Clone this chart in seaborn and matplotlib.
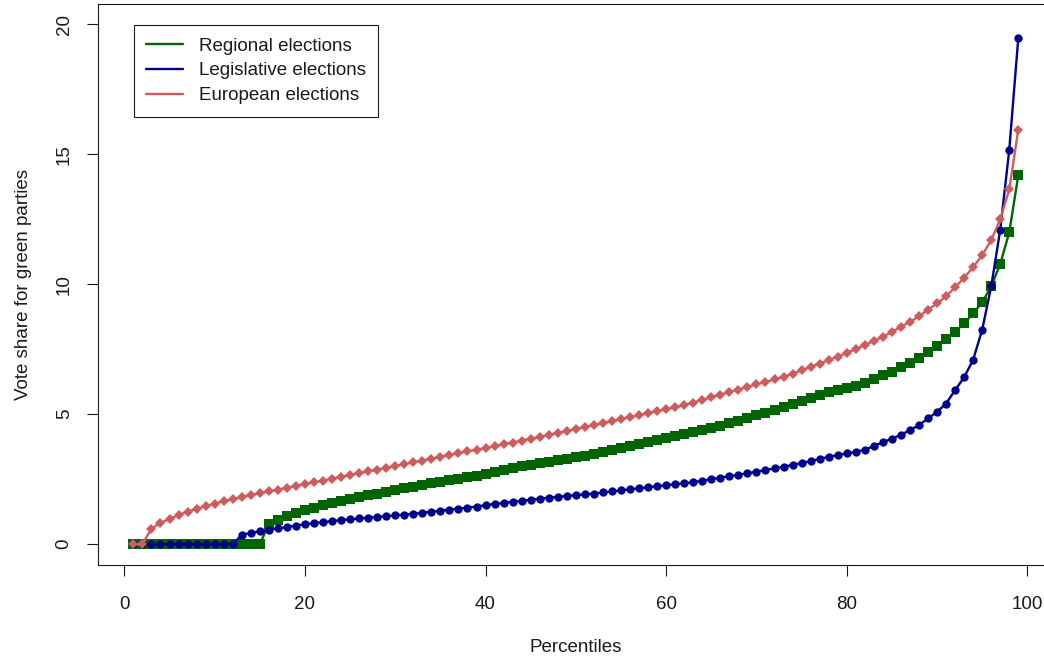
import matplotlib
matplotlib.use("Agg")
import matplotlib.pyplot as plt
from matplotlib.lines import Line2D
import seaborn as sns
import pandas as pd

# Percentile positions
percentiles = list(range(1, 100))

# Vote share (%) for green parties at each percentile
regional = [
    0.00, 0.00, 0.00, 0.00, 0.00, 0.00, 0.00, 0.00, 0.00, 0.00,
    0.00, 0.00, 0.00, 0.00, 0.00, 0.78, 0.95, 1.10, 1.22, 1.32,
    1.41, 1.50, 1.58, 1.66, 1.74, 1.81, 1.88, 1.95, 2.02, 2.09,
    2.16, 2.22, 2.28, 2.34, 2.40, 2.46, 2.52, 2.58, 2.64, 2.70,
    2.78, 2.85, 2.92, 2.99, 3.05, 3.11, 3.17, 3.23, 3.29, 3.35,
    3.41, 3.48, 3.55, 3.62, 3.69, 3.76, 3.84, 3.92, 4.00, 4.08,
    4.16, 4.24, 4.32, 4.40, 4.48, 4.56, 4.65, 4.75, 4.85, 4.96,
    5.06, 5.17, 5.28, 5.39, 5.50, 5.61, 5.73, 5.85, 5.93, 6.02,
    6.10, 6.20, 6.34, 6.50, 6.63, 6.82, 6.98, 7.18, 7.40, 7.62,
    7.88, 8.17, 8.50, 8.88, 9.30, 9.92, 10.78, 12.00, 14.20,
]
legislative = [
    0.00, 0.00, 0.00, 0.00, 0.00, 0.00, 0.00, 0.00, 0.00, 0.00,
    0.00, 0.00, 0.36, 0.44, 0.49, 0.56, 0.61, 0.66, 0.72, 0.77,
    0.81, 0.85, 0.89, 0.93, 0.96, 0.99, 1.02, 1.05, 1.08, 1.11,
    1.14, 1.17, 1.21, 1.25, 1.29, 1.33, 1.37, 1.41, 1.45, 1.50,
    1.55, 1.59, 1.63, 1.67, 1.71, 1.75, 1.79, 1.82, 1.86, 1.89,
    1.92, 1.95, 1.99, 2.03, 2.07, 2.11, 2.15, 2.19, 2.23, 2.27,
    2.31, 2.34, 2.39, 2.44, 2.50, 2.56, 2.62, 2.67, 2.73, 2.79,
    2.85, 2.92, 2.98, 3.05, 3.12, 3.20, 3.28, 3.36, 3.43, 3.49,
    3.56, 3.63, 3.78, 3.92, 4.06, 4.21, 4.39, 4.58, 4.84, 5.09,
    5.41, 5.93, 6.42, 7.10, 8.25, 9.92, 12.10, 15.18, 19.48,
]
european = [
    0.00, 0.00, 0.60, 0.82, 0.97, 1.12, 1.25, 1.36, 1.46, 1.56,
    1.65, 1.73, 1.81, 1.89, 1.96, 2.03, 2.10, 2.17, 2.24, 2.31,
    2.38, 2.45, 2.52, 2.59, 2.66, 2.73, 2.80, 2.87, 2.94, 3.01,
    3.08, 3.15, 3.22, 3.29, 3.36, 3.43, 3.50, 3.57, 3.64, 3.70,
    3.77, 3.84, 3.91, 3.99, 4.06, 4.13, 4.21, 4.28, 4.36, 4.43,
    4.51, 4.58, 4.66, 4.73, 4.81, 4.89, 4.96, 5.04, 5.12, 5.19,
    5.27, 5.35, 5.45, 5.55, 5.65, 5.75, 5.86, 5.95, 6.05, 6.15,
    6.24, 6.34, 6.44, 6.56, 6.69, 6.82, 6.95, 7.08, 7.22, 7.36,
    7.51, 7.66, 7.82, 7.98, 8.17, 8.36, 8.56, 8.77, 9.02, 9.26,
    9.54, 9.88, 10.25, 10.66, 11.12, 11.70, 12.50, 13.65, 15.95,
]

series_labels = ["Regional elections", "Legislative elections", "European elections"]
x_ticks = [0, 20, 40, 60, 80, 100]
y_ticks = [0, 5, 10, 15, 20]

sns.set_theme(style="white")
plt.rcParams["font.family"] = ["Liberation Sans", "DejaVu Sans"]
ink = "#1a1a1a"

fig = plt.figure(figsize=(10.44, 6.58), dpi=100)
ax = fig.add_axes([0.0936, 0.1413, 0.9157, 0.8522])

styles = [
    (regional, "#006400", "s", 6.5),
    (legislative, "#00008B", "o", 6.0),
    (european, "#CD5C5C", "D", 5.0),
]
for values, color, marker, ms in styles:
    df = pd.DataFrame({"p": percentiles, "v": values})
    sns.lineplot(data=df, x="p", y="v", ax=ax, color=color, linewidth=1.7,
                 marker=marker, markersize=ms, markeredgewidth=0,
                 markerfacecolor=color, estimator=None, legend=False)

ax.set_xlim(-2.95, 102.92)
ax.set_ylim(-0.80, 20.77)
ax.set_xticks(x_ticks)
ax.set_yticks(y_ticks)
ax.set_xticklabels([str(t) for t in x_ticks])
ax.set_yticklabels([str(t) for t in y_ticks], rotation=90, va="center")
ax.tick_params(axis="both", which="both", direction="out", length=8,
               width=0.8, color=ink, labelsize=13.5, labelcolor=ink,
               bottom=True, left=True)
ax.tick_params(axis="x", pad=14)
ax.tick_params(axis="y", pad=10)

for side in ["left", "right", "top", "bottom"]:
    ax.spines[side].set_visible(True)
    ax.spines[side].set_color(ink)
    ax.spines[side].set_linewidth(0.8)

ax.set_xlabel("Percentiles", fontsize=13.5, color=ink, labelpad=19)
ax.set_ylabel("Vote share for green parties", fontsize=13.5, color=ink, labelpad=17)
ax.grid(False)

handles = [Line2D([0], [0], color=c, linewidth=1.7) for _, c, _, _ in styles]
leg = ax.legend(handles, series_labels, loc="upper left",
                bbox_to_anchor=(0.038, 0.963), fontsize=13.5,
                frameon=True, fancybox=False, edgecolor=ink, framealpha=1,
                borderaxespad=0, borderpad=0.66, labelspacing=0.41,
                handlelength=1.95, handletextpad=0.85)
leg.get_frame().set_linewidth(0.8)
for t in leg.get_texts():
    t.set_color(ink)

fig.savefig("out.png", dpi=100)
